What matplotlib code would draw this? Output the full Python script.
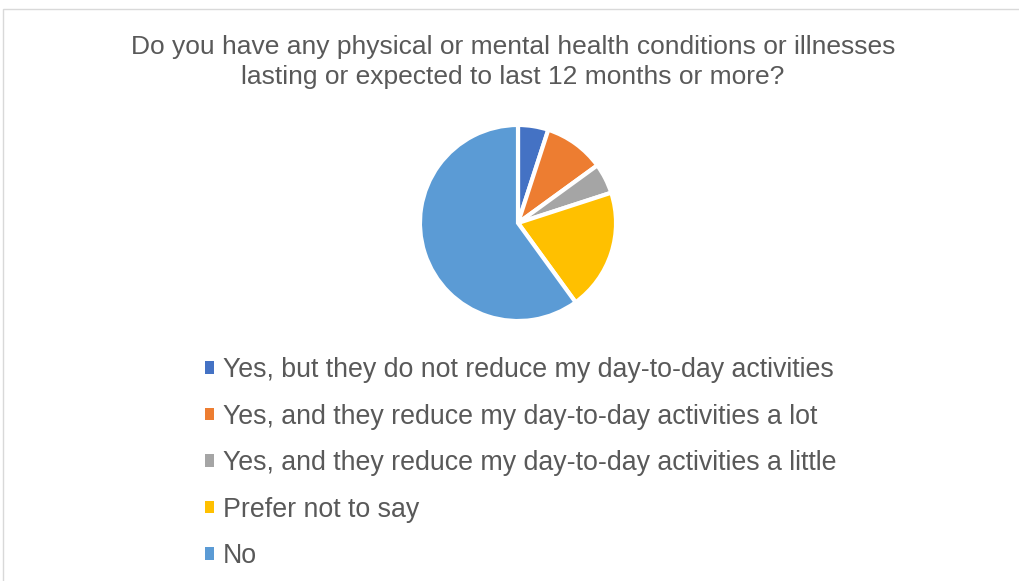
import matplotlib.pyplot as plt
from matplotlib.patches import Rectangle

plt.rcParams['font.family'] = ['Liberation Sans', 'DejaVu Sans']

labels = ["Yes, but they do not reduce my day-to-day activities",
          "Yes, and they reduce my day-to-day activities a lot",
          "Yes, and they reduce my day-to-day activities a little",
          "Prefer not to say",
          "No"]
values = [5, 10, 5, 20, 60]
colors = ["#4472C4", "#ED7D31", "#A5A5A5", "#FFC000", "#5B9BD5"]
title = "Do you have any physical or mental health conditions or illnesses\nlasting or expected to last 12 months or more?"

W, H = 1019, 581
fig = plt.figure(figsize=(W / 100, H / 100), dpi=100)

# chart area border
fig.patches.append(Rectangle((3 / W, -0.1), 1.1, (H - 9) / H + 0.1, transform=fig.transFigure,
                             fill=False, edgecolor="#D9D9D9", linewidth=1))

fig.text(513 / W, 1 - 62 / H, title, ha="center", va="center", fontsize=19,
         color="#595959", linespacing=1.32)

r = 100
ax = fig.add_axes([(518 - r) / W, (H - 223 - r) / H, 2 * r / W, 2 * r / H])
wedges, _ = ax.pie(values, colors=colors, startangle=90, counterclock=False, radius=1,
                   wedgeprops=dict(edgecolor="white", linewidth=3))
ax.set_xlim(-1.02, 1.02)
ax.set_ylim(-1.02, 1.02)
ax.set_aspect("equal")
ax.axis("off")

leg = fig.legend(wedges, labels, loc="upper left", bbox_to_anchor=(205 / W, 1 - 357 / H),
                 frameon=False, fontsize=19.3, labelcolor="#595959",
                 handlelength=0.34, handleheight=0.34, handletextpad=0.34, labelspacing=0.765,
                 borderaxespad=0, borderpad=0)
for h in leg.legend_handles:
    h.set_edgecolor("none")

fig.savefig("out.png", dpi=100)
